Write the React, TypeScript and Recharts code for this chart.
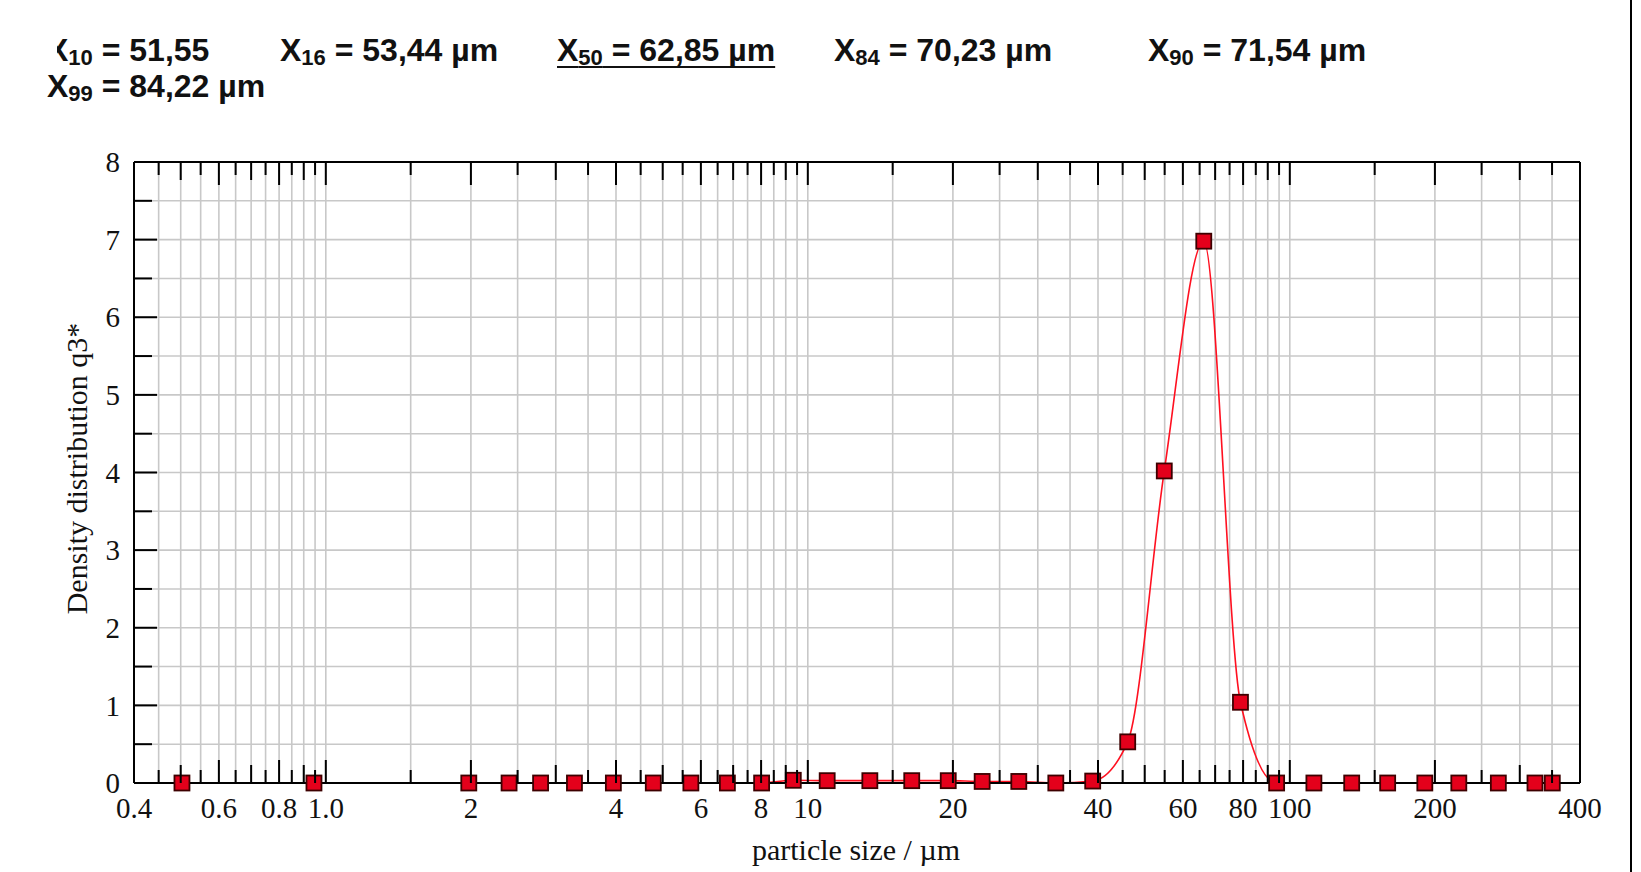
import React from 'react';
import { LineChart, Line, XAxis, YAxis, ReferenceLine } from 'recharts';

// particle size classes (µm) and density q3*
const sizes = [
  0.503, 0.945, 1.98, 2.4, 2.79, 3.28, 3.95, 4.78, 5.72, 6.81, 8.02, 9.33, 10.97, 13.45, 16.43, 19.56, 23.0,
  27.4, 32.7, 39.0, 46.1, 54.9, 66.3, 79.0, 93.9, 112.2, 134.4, 159.6, 190.6, 224.2, 270.8, 322.6, 350.4,
];
const density = [
  0, 0, 0, 0, 0, 0, 0, 0, 0, 0, 0, 0.035, 0.03, 0.03, 0.03, 0.03, 0.02, 0.02, 0, 0.025, 0.53, 4.02, 6.98,
  1.04, 0, 0, 0, 0, 0, 0, 0, 0, 0,
];

const xLabelTicks = [0.4, 0.6, 0.8, 1, 2, 4, 6, 8, 10, 20, 40, 60, 80, 100, 200, 400];
const xTickLabels = ['0.4', '0.6', '0.8', '1.0', '2', '4', '6', '8', '10', '20', '40', '60', '80', '100', '200', '400'];
const xMidTicks = [0.5, 0.7, 0.9, 3, 5, 7, 9, 30, 50, 70, 90, 300];
const xGrid = [
  0.45, 0.5, 0.55, 0.6, 0.65, 0.7, 0.75, 0.8, 0.85, 0.9, 0.95, 1, 1.5, 2, 2.5, 3, 3.5, 4, 4.5, 5, 5.5, 6, 6.5, 7,
  7.5, 8, 8.5, 9, 9.5, 10, 15, 20, 25, 30, 35, 40, 45, 50, 55, 60, 65, 70, 75, 80, 85, 90, 95, 100, 150, 200,
  250, 300, 350,
];
const xTicks = [0.4, ...xGrid, 400];
const yTicks = [0, 0.5, 1, 1.5, 2, 2.5, 3, 3.5, 4, 4.5, 5, 5.5, 6, 6.5, 7, 7.5, 8];
const yGrid = [0.5, 1, 1.5, 2, 2.5, 3, 3.5, 4, 4.5, 5, 5.5, 6, 6.5, 7, 7.5];
const yLabelTicks = [0, 1, 2, 3, 4, 5, 6, 7, 8];

const header = [
  { sub: '10', text: ' = 51,55', left: 47, top: 34, clip: 57 },
  { sub: '16', text: ' = 53,44 µm', left: 280, top: 34 },
  { sub: '50', text: ' = 62,85 µm', left: 557, top: 34, underline: true },
  { sub: '84', text: ' = 70,23 µm', left: 834, top: 34 },
  { sub: '90', text: ' = 71,54 µm', left: 1148, top: 34 },
  { sub: '99', text: ' = 84,22 µm', left: 47, top: 70 },
];

const data = sizes.map((s, i) => ({ size: s, q: density[i] }));

const SERIF = '"Liberation Serif", "Times New Roman", serif';
const SANS = '"Liberation Sans", Arial, sans-serif';

const tickLen = (v: number) => (xLabelTicks.includes(v) ? 23 : xMidTicks.includes(v) ? 18 : 13);

const BottomTick = (props: any) => {
  const { x, y, payload } = props;
  const v = payload.value;
  const idx = xLabelTicks.indexOf(v);
  return (
    <g>
      <line x1={x} x2={x} y1={y} y2={y - tickLen(v)} stroke="#000" strokeWidth={2} />
      {idx >= 0 && (
        <text x={x} y={y + 35} textAnchor="middle" fontFamily={SERIF} fontSize={29} fill="#111">
          {xTickLabels[idx]}
        </text>
      )}
    </g>
  );
};

const TopTick = (props: any) => {
  const { x, y, payload } = props;
  return <line x1={x} x2={x} y1={y} y2={y + tickLen(payload.value)} stroke="#000" strokeWidth={2} />;
};

const LeftTick = (props: any) => {
  const { x, y, payload } = props;
  const major = yLabelTicks.includes(payload.value);
  return (
    <g>
      <line x1={x} x2={x + (major ? 23 : 18)} y1={y} y2={y} stroke="#000" strokeWidth={2} />
      {major && (
        <text x={x - 14} y={y} dy="0.35em" textAnchor="end" fontFamily={SERIF} fontSize={29} fill="#111">
          {payload.value}
        </text>
      )}
    </g>
  );
};

const RightTick = (props: any) => {
  const { x, y, payload } = props;
  const major = yLabelTicks.includes(payload.value);
  return <line x1={x} x2={x - (major ? 23 : 18)} y1={y} y2={y} stroke="#000" strokeWidth={2} />;
};

const SquareDot = (props: any) => {
  const { cx, cy, index } = props;
  if (cx == null || cy == null) return <g key={`d-${index}`} />;
  return (
    <rect key={`d-${index}`} x={cx - 7.5} y={cy - 7.5} width={15} height={15} fill="#e4001b" stroke="#3d0000" strokeWidth={1.8} />
  );
};

const HeaderItem = ({ item }: { item: (typeof header)[number] }) => {
  const inner = (
    <div
      style={{
        fontFamily: SANS,
        fontWeight: 700,
        fontSize: 32,
        lineHeight: '32px',
        whiteSpace: 'nowrap',
        color: '#111',
        textDecoration: item.underline ? 'underline' : 'none',
        textDecorationSkipInk: 'none',
        textUnderlineOffset: 5,
        textDecorationThickness: 2,
      }}
    >
      X
      <span style={{ fontSize: 22, position: 'relative', top: 4 }}>{item.sub}</span>
      {item.text}
    </div>
  );
  if (item.clip) {
    return (
      <div style={{ position: 'absolute', left: item.clip, top: item.top, overflow: 'hidden', width: 260 }}>
        <div style={{ marginLeft: item.left - item.clip }}>{inner}</div>
      </div>
    );
  }
  return <div style={{ position: 'absolute', left: item.left, top: item.top }}>{inner}</div>;
};

export default function App() {
  return (
    <div style={{ position: 'absolute', left: 0, top: 0, width: 1641, height: 872, background: '#fff', overflow: 'hidden' }}>
      {header.map((h) => (
        <HeaderItem key={h.sub} item={h} />
      ))}
      <div style={{ position: 'absolute', left: 1630, top: 0, width: 2, height: 872, background: '#000' }} />
      <div style={{ position: 'absolute', left: 0, top: 0 }}>
        <LineChart width={1641} height={872} data={data} margin={{ top: 142, right: 41, bottom: 49, left: 74 }}>
          <XAxis
            xAxisId="bottom"
            dataKey="size"
            type="number"
            scale="log"
            domain={[0.4, 400]}
            allowDataOverflow
            ticks={xTicks}
            interval={0}
            tickSize={0}
            tickMargin={0}
            height={40}
            tick={BottomTick}
            axisLine={{ stroke: '#000', strokeWidth: 2 }}
            tickLine={false}
            label={{
              content: (p: any) => {
                const vb = p.viewBox;
                return (
                  <text x={vb.x + vb.width / 2 - 1} y={860} textAnchor="middle" fontFamily={SERIF} fontSize={30} fill="#111">
                    particle size / µm
                  </text>
                );
              },
            }}
          />
          <XAxis
            xAxisId="top"
            orientation="top"
            dataKey="size"
            type="number"
            scale="log"
            domain={[0.4, 400]}
            allowDataOverflow
            ticks={xTicks}
            interval={0}
            tickSize={0}
            tickMargin={0}
            height={20}
            tick={TopTick}
            axisLine={{ stroke: '#000', strokeWidth: 2 }}
            tickLine={false}
          />
          <YAxis
            yAxisId="left"
            type="number"
            domain={[0, 8]}
            ticks={yTicks}
            interval={0}
            tickSize={0}
            tickMargin={0}
            width={60}
            tick={LeftTick}
            axisLine={{ stroke: '#000', strokeWidth: 2 }}
            tickLine={false}
            label={{
              content: (p: any) => {
                const vb = p.viewBox;
                const cy = vb.y + vb.height / 2 - 4;
                return (
                  <text
                    x={87}
                    y={cy}
                    transform={`rotate(-90 87 ${cy})`}
                    textAnchor="middle"
                    fontFamily={SERIF}
                    fontSize={30}
                    fill="#111"
                  >
                    Density distribution q3*
                  </text>
                );
              },
            }}
          />
          <YAxis
            yAxisId="right"
            orientation="right"
            type="number"
            domain={[0, 8]}
            ticks={yTicks}
            interval={0}
            tickSize={0}
            tickMargin={0}
            width={20}
            tick={RightTick}
            axisLine={{ stroke: '#000', strokeWidth: 2 }}
            tickLine={false}
          />
          {xGrid.map((v) => (
            <ReferenceLine key={`gx-${v}`} x={v} xAxisId="bottom" yAxisId="left" stroke="#c8c8c8" strokeWidth={1.6} />
          ))}
          {yGrid.map((v) => (
            <ReferenceLine key={`gy-${v}`} y={v} xAxisId="bottom" yAxisId="left" stroke="#c8c8c8" strokeWidth={1.6} />
          ))}
          <Line
            xAxisId="bottom"
            yAxisId="left"
            dataKey="q"
            type="monotone"
            stroke="#ff1020"
            strokeWidth={1.6}
            dot={SquareDot}
            activeDot={false}
            isAnimationActive={false}
          />
        </LineChart>
      </div>
    </div>
  );
}
